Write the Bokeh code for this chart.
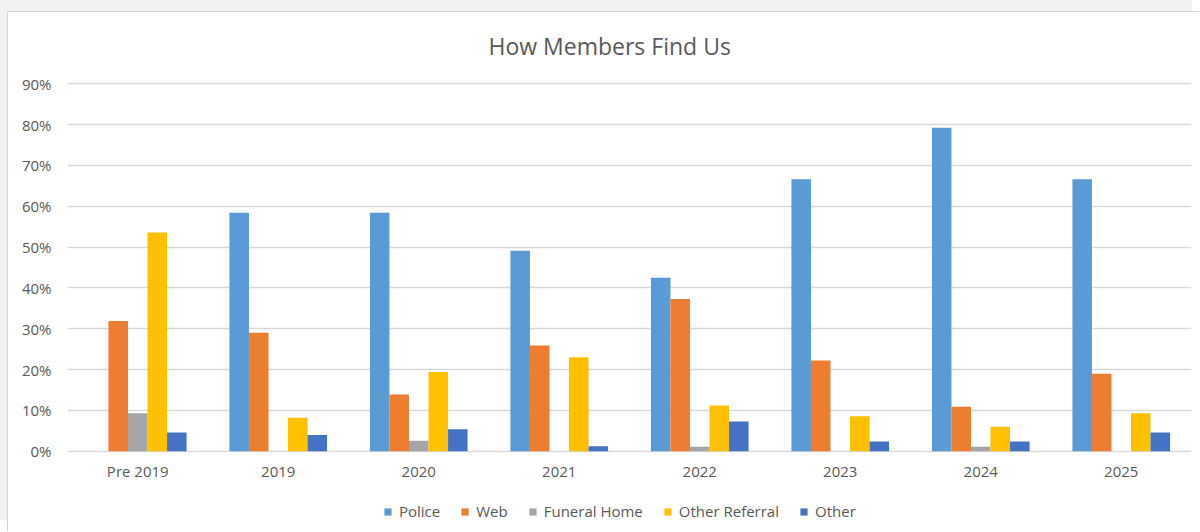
from bokeh.plotting import figure
from bokeh.layouts import column
from bokeh.models import ColumnDataSource, FactorRange, Legend, LegendItem, NumeralTickFormatter, FixedTicker, Range1d, Label
from bokeh.transform import dodge
from bokeh.embed import file_html
from bokeh.resources import INLINE

categories = ["Pre 2019", "2019", "2020", "2021", "2022", "2023", "2024", "2025"]
police = [0.0, 0.584, 0.584, 0.491, 0.425, 0.666, 0.792, 0.666]
web = [0.319, 0.290, 0.139, 0.259, 0.373, 0.222, 0.109, 0.190]
funeral_home = [0.093, 0.0, 0.026, 0.0, 0.011, 0.0, 0.011, 0.0]
other_referral = [0.536, 0.082, 0.194, 0.230, 0.112, 0.086, 0.060, 0.093]
other = [0.046, 0.040, 0.054, 0.012, 0.073, 0.024, 0.024, 0.046]
y_ticks = [0.0, 0.1, 0.2, 0.3, 0.4, 0.5, 0.6, 0.7, 0.8, 0.9]
title_text = "How Members Find Us"

series = [
    ("Police", police, "#5B9BD5"),
    ("Web", web, "#ED7D31"),
    ("Funeral Home", funeral_home, "#A5A5A5"),
    ("Other Referral", other_referral, "#FFC000"),
    ("Other", other, "#4472C4"),
]

data = {"cat": categories}
for name, vals, _ in series:
    data[name] = vals
source = ColumnDataSource(data)

FONT = "Open Sans"
TXT = "#595959"


def strip(height):
    f = figure(width=1192, height=height, output_backend="svg", toolbar_location=None,
               x_range=Range1d(0, 1), y_range=Range1d(0, 1),
               x_axis_location=None, y_axis_location=None,
               min_border_left=0, min_border_right=0, min_border_top=0, min_border_bottom=0)
    f.outline_line_color = None
    f.grid.grid_line_color = None
    return f


# title strip (its frame is aligned with the chart's frame)
title_fig = strip(60)
title_fig.add_layout(Label(x=421, y=27, x_units="screen", y_units="screen", text=title_text,
                           text_font=FONT, text_font_size="23px", text_color=TXT,
                           text_baseline="alphabetic", text_align="left"))

chart = figure(x_range=FactorRange(*categories, range_padding=0.0),
               y_range=Range1d(-0.003, 0.903),
               width=1192, height=414, output_backend="svg", toolbar_location=None,
               min_border_left=59, min_border_right=9, min_border_top=10, min_border_bottom=34)

bw = 0.139
offsets = [-2 * bw, -bw, 0.0, bw, 2 * bw]
for (name, vals, color), off in zip(series, offsets):
    chart.vbar(x=dodge("cat", off, range=chart.x_range), top=name, width=bw, source=source,
               fill_color=color, line_color=None)

chart.outline_line_color = None
chart.xgrid.grid_line_color = None
chart.ygrid.grid_line_color = "#D9D9D9"
chart.ygrid.grid_line_width = 1.5

chart.yaxis.ticker = FixedTicker(ticks=y_ticks)
chart.yaxis.formatter = NumeralTickFormatter(format="0%")
chart.yaxis.axis_line_color = None
chart.yaxis.major_tick_line_color = None
chart.yaxis.minor_tick_line_color = None
chart.yaxis.major_label_text_font = FONT
chart.yaxis.major_label_text_font_size = "15px"
chart.yaxis.major_label_text_color = TXT
chart.yaxis.major_label_standoff = 10

chart.xaxis.axis_line_color = None
chart.xaxis.major_tick_line_color = None
chart.xaxis.minor_tick_line_color = None
chart.xaxis.major_label_text_font = FONT
chart.xaxis.major_label_text_font_size = "15px"
chart.xaxis.major_label_text_color = TXT
chart.xaxis.major_label_standoff = 2

# legend strip below the chart
leg_fig = strip(46)
items = []
for name, vals, color in series:
    # zero-height swatch renderer: draws nothing itself, only its legend glyph shows
    r = leg_fig.vbar(x=[0.5], top=[0], bottom=[0], width=0.01, fill_color=color, line_color=None)
    items.append(LegendItem(label=name, renderers=[r]))

legend = Legend(items=items, orientation="horizontal", location=(316, 11))
legend.label_text_font = FONT
legend.label_text_font_size = "15px"
legend.label_text_color = TXT
legend.glyph_width = 9
legend.glyph_height = 9
legend.label_standoff = 7
legend.spacing = 20
legend.padding = 0
legend.margin = 0
legend.border_line_color = None
legend.background_fill_alpha = 0
leg_fig.add_layout(legend, "center")

p = column(title_fig, chart, leg_fig, spacing=0, margin=(12, 0, 0, 8),
           styles={"box-shadow": "-1px -1px 0 0 #d4d4d4, -8px -12px 0 0 #f1f1f1"})

open("out.html", "w").write(file_html(p, INLINE))
